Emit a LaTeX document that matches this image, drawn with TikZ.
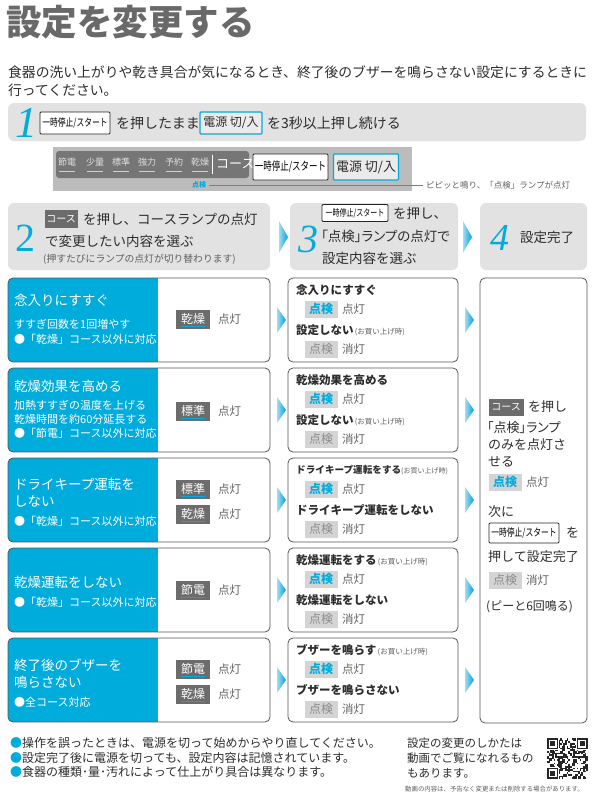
\documentclass[tikz,border=0pt]{standalone}
\usepackage{fontspec}
\usepackage{graphicx}
\setmainfont{Noto Sans CJK JP}
\newfontfamily\jpp{Noto Sans CJK JP}[RawFeature=+palt]
\newfontfamily\numfont{Liberation Serif}
\newcommand\fsz[1]{\fontsize{#1}{#1}\selectfont}
\newcommand\pausetxt[1]{\scalebox{0.74}[1]{\fsz{#1}一時停止/スタート}}
\newcommand\buytag{{\fsz{7.5}\mdseries\color{graytxt}\,(お買い上げ時)}}
\definecolor{cyanM}{RGB}{0,172,220}
\definecolor{txtc}{RGB}{45,45,45}
\definecolor{titlec}{RGB}{105,105,105}
\definecolor{hdrc}{RGB}{226,226,226}
\definecolor{stripc}{RGB}{188,188,188}
\definecolor{stripin}{RGB}{118,118,118}
\definecolor{lampc}{RGB}{108,108,108}
\definecolor{chkc}{RGB}{212,212,212}
\definecolor{offc}{RGB}{140,140,140}
\definecolor{borderc}{RGB}{85,85,85}
\definecolor{graytxt}{RGB}{95,95,95}
\definecolor{ebtnc}{RGB}{235,235,235}
\definecolor{triL}{RGB}{160,220,242}
\definecolor{triR}{RGB}{0,160,220}
\tikzset{
 lbl/.style={anchor=west,inner sep=0pt,text=txtc,font=\fsz{13.5}},
 wlbl/.style={anchor=west,inner sep=0pt,text=white,font=\fsz{13.5}},
 wsub/.style={anchor=west,inner sep=0pt,text=white,font=\fsz{11}},
 hd/.style={anchor=west,inner sep=0pt,text=txtc,font=\fsz{11.5}\bfseries},
 lit/.style={anchor=west,inner sep=0pt,text=graytxt,font=\fsz{11.5}},
 lampbox/.style={fill=lampc,text=white,font=\fsz{12},minimum width=34pt,minimum height=19pt,inner sep=0pt,
   path picture={\draw[cyanM,line width=1.6pt] ([xshift=5pt,yshift=2pt]path picture bounding box.south west) -- ([xshift=-5pt,yshift=2pt]path picture bounding box.south east);}},
 chkon/.style={fill=chkc,text=cyanM,font=\fsz{12}\bfseries,minimum width=33pt,minimum height=17pt,inner sep=0pt},
 chkoff/.style={fill=chkc,text=offc,font=\fsz{12},minimum width=33pt,minimum height=17pt,inner sep=0pt},
 rowbox/.style={draw=borderc,line width=0.8pt,rounded corners=5pt},
 hdrbox/.style={fill=hdrc,rounded corners=6pt},
 pbtn/.style={draw=black!85,fill=white,line width=0.8pt,rounded corners=1pt,inner sep=0pt},
 ebtn/.style={draw=cyanM,fill=ebtnc,line width=1.2pt,rounded corners=1pt,inner sep=0pt,font=\fsz{12},text=txtc},
 cbtn/.style={fill=lampc,text=white,inner sep=0pt,font=\fsz{10}},
 num/.style={text=cyanM,font=\numfont\itshape\fsz{40},inner sep=0pt},
 tri/.style={left color=triL,right color=triR}
}
\newcommand\selbox[4]{%
 \draw[rowbox] (288,#1) rectangle (458,#1+84);
 \node[hd] (#2h1) at (296,#1+12) {#3};
 \node[chkon] (#2c1) at (321,#1+31) {点検};
 \node[lit] (#2l1) at (342,#1+31) {点灯};
 \node[hd] (#2h2) at (296,#1+52) {#4};
 \node[chkoff] (#2c2) at (321,#1+71) {点検};
 \node[lit] (#2l2) at (342,#1+71) {消灯};
}
\newcommand\rowblue[1]{%
 \begin{scope}\clip[rounded corners=5pt] (8,#1) rectangle (270,#1+84);
 \fill[cyanM] (8,#1) rectangle (158,#1+84);\end{scope}
 \draw[rowbox] (8,#1) rectangle (270,#1+84);
 \shade[tri] (277,#1+29) -- (286,#1+42) -- (277,#1+55) -- cycle;
 \shade[tri] (465,#1+29) -- (474,#1+42) -- (465,#1+55) -- cycle;
}
\begin{document}
\begin{tikzpicture}[x=1pt,y=-1pt]
\useasboundingbox (0,0) rectangle (594,800);
\fill[white] (0,0) rectangle (594,800);

% title
\node[anchor=west,inner sep=0,text=titlec,font=\fsz{35.5}\bfseries] (title) at (6,22) {設定を変更する};
\node[lbl,font=\fsz{13.8}] (sub1) at (8,72) {食器の洗い上がりや乾き具合が気になるとき、終了後のブザーを鳴らさない設定にするときに};
\node[lbl,font=\fsz{13.8}] (sub2) at (8,90) {行ってください。};

% step 1
\fill[hdrbox] (8,103) rectangle (586,141);
\node[num,font=\numfont\itshape\fsz{44}] (n1) at (26,123) {1};
\node[pbtn,minimum width=70pt,minimum height=22pt] (s1b1) at (75,123) {\pausetxt{10.5}};
\node[lbl,font=\fsz{14}] (s1t1) at (116,123) {を押したまま};
\node[ebtn,minimum width=62pt,minimum height=22pt] (s1b2) at (231,123) {電源 切/入};
\node[lbl,font=\fsz{14}] (s1t2) at (267,123) {を3秒以上押し続ける};

% control strip
\fill[stripc] (53,147) rectangle (412,191);
\fill[stripin,rounded corners=3pt] (56,151) rectangle (249,178);
\foreach \lab/\xc [count=\k] in {節電/67,少量/95,標準/121,強力/147,予約/174,乾燥/200}{
  \node[font=\fsz{9},text=white!88!black,inner sep=0] (sl\k) at (\xc,162) {\lab};
  \draw[white!82!black,line width=0.8pt] (\xc-8,171) -- (\xc+8,171);
}
\draw[white,line width=0.8pt] (212,155) -- (212,174);
\node[anchor=west,inner sep=0,font=\fsz{13},text=white] (scourse) at (216,164) {コース};
\node[pbtn,minimum width=75pt,minimum height=26pt] (sb1) at (290.5,167) {\pausetxt{11.5}};
\node[ebtn,minimum width=65pt,minimum height=26pt,font=\fsz{13}] (sb2) at (366,167) {電源 切/入};
\node[font=\fsz{7}\bfseries,text=cyanM,inner sep=0] (sten) at (199,185) {点検};
\node[anchor=west,inner sep=0,font=\fsz{8.5},text=graytxt] (snote) at (426,185) {ピピッと鳴り、「点検」ランプが点灯};
\draw[cyanM,line width=1pt] ([xshift=3pt]sten.east) -- ([xshift=-3pt]snote.west);

% step headers
\fill[hdrbox] (8,203) rectangle (270,270);
\fill[hdrbox] (290,203) rectangle (458,270);
\fill[hdrbox] (480,203) rectangle (587,270);
\shade[tri] (279,221) -- (288,237) -- (279,253) -- cycle;
\shade[tri] (463,221) -- (472,237) -- (463,253) -- cycle;

\node[text=cyanM,font=\numfont\fsz{40},inner sep=0] (n2) at (25,238) {2};
\node[cbtn,minimum width=33pt,minimum height=18pt] (s2b) at (61,219) {コース};
\node[lbl] (s2t1) at (83,219) {を押し、コースランプの点灯};
\node[lbl] (s2t2) at (45,241) {で変更したい内容を選ぶ};
\node[lbl,font=\fsz{9.8},text=graytxt] (s2t3) at (43,259) {(押すたびにランプの点灯が切り替わります)};

\node[num] (n3) at (308,239) {3};
\node[pbtn,minimum width=66pt,minimum height=17pt] (s3b) at (355,213) {\pausetxt{9.5}};
\node[lbl] (s3t1) at (393,213) {を押し、};
\node[lbl,font=\jpp\fsz{13.5}] (s3t2) at (321,236) {「点検」ランプの点灯で};
\node[lbl] (s3t3) at (322,258) {設定内容を選ぶ};

\node[num,font=\numfont\itshape\fsz{38}] (n4) at (500,238) {4};
\node[lbl] (s4t) at (520,237) {設定完了};

% rows column 2
\rowblue{278}
\node[wlbl] (r1t) at (14,300) {念入りにすすぐ};
\node[wsub] (r1s1) at (14,324) {すすぎ回数を1回増やす};
\node[wsub] (r1s2) at (14,339) {●「乾燥」コース以外に対応};
\node[lampbox] (r1l) at (193,319) {乾燥};
\node[lit] (r1lt) at (218,319) {点灯};

\rowblue{368}
\node[wlbl] (r2t) at (14,386) {乾燥効果を高める};
\node[wsub] (r2s1) at (14,405) {加熱すすぎの温度を上げる};
\node[wsub] (r2s2) at (14,419) {乾燥時間を約60分延長する};
\node[wsub] (r2s3) at (14,433) {●「節電」コース以外に対応};
\node[lampbox] (r2l) at (193,411) {標準};
\node[lit] (r2lt) at (218,411) {点灯};

\rowblue{458}
\node[wlbl] (r3t) at (14,484) {ドライキープ運転を};
\node[wlbl] (r3t2) at (14,501) {しない};
\node[wsub] (r3s) at (14,521) {●「乾燥」コース以外に対応};
\node[lampbox] (r3l1) at (193,489) {標準};
\node[lit] (r3lt1) at (218,489) {点灯};
\node[lampbox] (r3l2) at (193,514) {乾燥};
\node[lit] (r3lt2) at (218,514) {点灯};

\rowblue{548}
\node[wlbl] (r4t) at (14,582) {乾燥運転をしない};
\node[wsub] (r4s) at (14,602) {●「乾燥」コース以外に対応};
\node[lampbox] (r4l) at (193,590) {節電};
\node[lit] (r4lt) at (218,590) {点灯};

\rowblue{638}
\node[wlbl] (r5t) at (14,665) {終了後のブザーを};
\node[wlbl] (r5t2) at (14,682) {鳴らさない};
\node[wsub] (r5s) at (14,702) {●全コース対応};
\node[lampbox] (r5l1) at (193,669) {節電};
\node[lit] (r5lt1) at (218,669) {点灯};
\node[lampbox] (r5l2) at (193,694) {乾燥};
\node[lit] (r5lt2) at (218,694) {点灯};

% column 3
\selbox{278}{c1}{念入りにすすぐ}{設定しない\buytag}
\selbox{368}{c2}{乾燥効果を高める}{設定しない\buytag}
\selbox{458}{c3}{{\fsz{9.6}ドライキープ運転をする}{\fsz{7}\mdseries\color{graytxt}(お買い上げ時)}}{ドライキープ運転をしない}
\selbox{548}{c4}{乾燥運転をする\buytag}{乾燥運転をしない}
\selbox{638}{c5}{ブザーを鳴らす\buytag}{ブザーを鳴らさない}

% column 4
\draw[rowbox] (480,278) rectangle (587,723);
\node[cbtn,minimum width=35pt,minimum height=17pt] (d1) at (506,407) {コース};
\node[lbl,font=\fsz{13}] (d2) at (528,407) {を押し};
\node[lbl,font=\jpp\fsz{13}] (d3) at (487,428) {「点検」ランプ};
\node[lbl,font=\fsz{13}] (d4) at (488,445) {のみを点灯さ};
\node[lbl,font=\fsz{13}] (d5) at (488,462) {せる};
\node[chkon] (d6) at (505,482) {点検};
\node[lit] (d7) at (526,482) {点灯};
\node[lbl,font=\fsz{13}] (d8) at (488,512) {次に};
\node[pbtn,minimum width=70pt,minimum height=20pt] (d9) at (524,533) {\pausetxt{10.5}};
\node[lbl,font=\fsz{13}] (d10) at (566,533) {を};
\node[lbl,font=\fsz{13}] (d11) at (488,557) {押して設定完了};
\node[chkoff] (d12) at (505,580) {点検};
\node[lit] (d13) at (526,580) {消灯};
\node[lbl,font=\fsz{12}] (d14) at (486,607) {(ピーと6回鳴る)};

% bottom notes
\node[lbl,font=\fsz{12}] (b1) at (10,743) {{\color{cyanM}●}操作を誤ったときは、電源を切って始めからやり直してください。};
\node[lbl,font=\fsz{12}] (b2) at (10,758) {{\color{cyanM}●}設定完了後に電源を切っても、設定内容は記憶されています。};
\node[lbl,font=\fsz{12}] (b3) at (10,772) {{\color{cyanM}●}食器の種類･量･汚れによって仕上がり具合は異なります。};
\node[lbl,font=\fsz{11.5}] (m1) at (407,743) {設定の変更のしかたは};
\node[lbl,font=\fsz{11.5}] (m2) at (407,758) {動画でご覧になれるもの};
\node[lbl,font=\fsz{11.5}] (m3) at (407,773) {もあります。};
\node[lbl,font=\fsz{6.4},text=graytxt] (m4) at (405,789) {動画の内容は、予告なく変更または削除する場合があります。};

% QR code
\begin{scope}[shift={(547,738)}]
 \pgfmathsetseed{17}
 \foreach \i in {0,...,24}{\foreach \j in {0,...,24}{
   \pgfmathtruncatemacro\qb{(rnd>0.5)}
   \ifnum\qb=1 \fill[black!85] (\i*1.64,\j*1.64) rectangle ++(1.64,1.64);\fi}}
 \foreach \fx/\fy in {0/0,18/0,0/18}{
   \fill[white] (\fx*1.64-0.5,\fy*1.64-0.5) rectangle ++(7*1.64+1,7*1.64+1);
   \fill[black!85] (\fx*1.64,\fy*1.64) rectangle ++(7*1.64,7*1.64);
   \fill[white] (\fx*1.64+1.64,\fy*1.64+1.64) rectangle ++(5*1.64,5*1.64);
   \fill[black!85] (\fx*1.64+3.28,\fy*1.64+3.28) rectangle ++(3*1.64,3*1.64);
 }
\end{scope}
\end{tikzpicture}
\end{document}
